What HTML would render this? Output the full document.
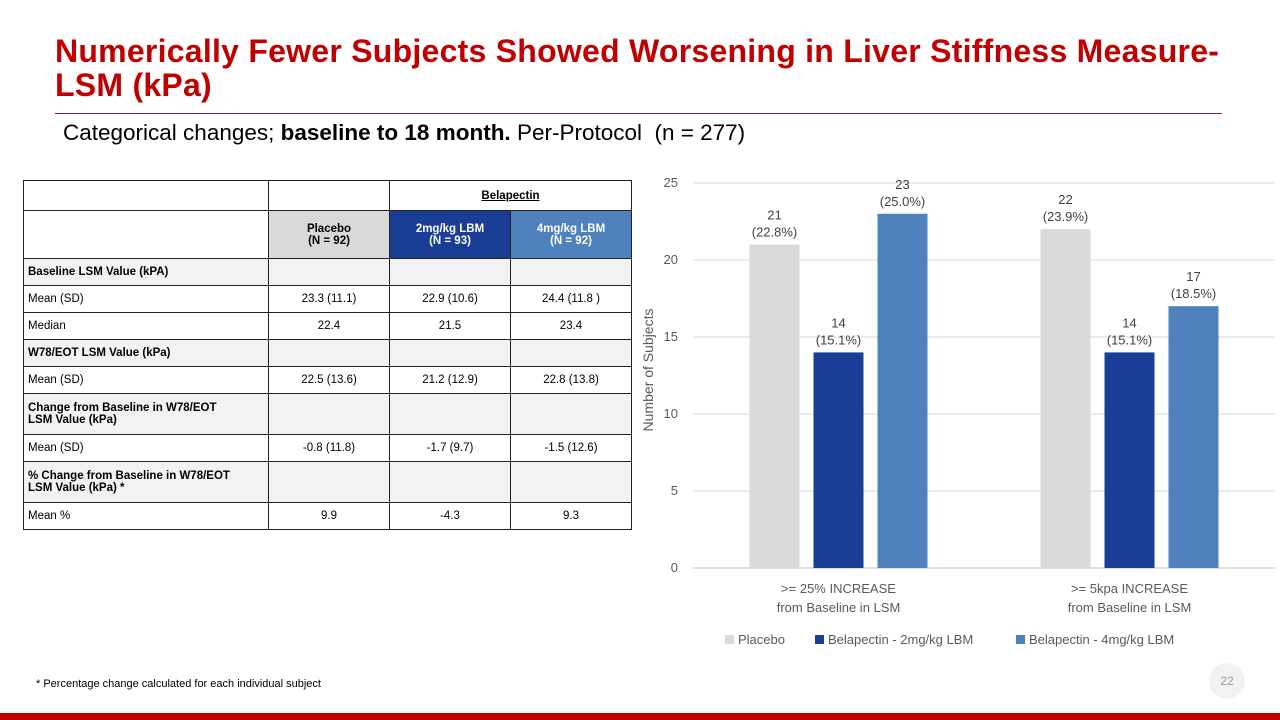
<!DOCTYPE html>
<html><head><meta charset="utf-8"><style>
body{margin:0;width:1280px;height:720px;position:relative;background:#fff;font-family:"Liberation Sans",sans-serif;overflow:hidden}
.abs{position:absolute}
table{border-collapse:collapse;position:absolute;left:23px;top:180px;font-size:11.5px;color:#000}
td{border:1px solid #222;padding:0 4px;height:26px;box-sizing:border-box}
td.c{text-align:center}
.sh td{background:#f2f2f2;font-weight:bold}
</style></head><body>
<div class="abs" style="left:55px;top:34px;width:1220px;color:#c00000;font-weight:bold;font-size:32px;line-height:34px;letter-spacing:0.25px">Numerically Fewer Subjects Showed Worsening in Liver Stiffness Measure-<br>LSM (kPa)</div>
<div class="abs" style="left:55px;top:113px;width:1167px;height:1px;background:#7a1f3d"></div>
<div class="abs" style="left:63px;top:120px;font-size:22.5px">Categorical changes; <b>baseline to 18 month.</b> Per-Protocol&nbsp; (n = 277)</div>
<table>
<colgroup><col style="width:245px"><col style="width:121px"><col style="width:121px"><col style="width:121px"></colgroup>
<tr style="height:30px"><td style="height:30px"></td><td></td><td colspan="2" class="c" style="font-weight:bold"><u>Belapectin</u></td></tr>
<tr style="font-weight:bold"><td style="height:48px"></td><td class="c" style="background:#d9d9d9">Placebo<br>(N = 92)</td><td class="c" style="background:#1a3e96;color:#fff">2mg/kg LBM<br>(N = 93)</td><td class="c" style="background:#4f81bd;color:#fff">4mg/kg LBM<br>(N = 92)</td></tr>
<tr class="sh"><td style="height:27px">Baseline LSM Value (kPA)</td><td></td><td></td><td></td></tr>
<tr><td style="height:27px">Mean (SD)</td><td class="c">23.3 (11.1)</td><td class="c">22.9 (10.6)</td><td class="c">24.4 (11.8 )</td></tr>
<tr><td style="height:27px">Median</td><td class="c">22.4</td><td class="c">21.5</td><td class="c">23.4</td></tr>
<tr class="sh"><td style="height:27px">W78/EOT LSM Value (kPa)</td><td></td><td></td><td></td></tr>
<tr><td style="height:27px">Mean (SD)</td><td class="c">22.5 (13.6)</td><td class="c">21.2 (12.9)</td><td class="c">22.8 (13.8)</td></tr>
<tr class="sh"><td style="height:41px">Change from Baseline in W78/EOT<br>LSM Value (kPa)</td><td></td><td></td><td></td></tr>
<tr><td style="height:27px">Mean (SD)</td><td class="c">-0.8 (11.8)</td><td class="c">-1.7 (9.7)</td><td class="c">-1.5 (12.6)</td></tr>
<tr class="sh"><td style="height:41px">% Change from Baseline in W78/EOT<br>LSM Value (kPa) *</td><td></td><td></td><td></td></tr>
<tr><td style="height:27px">Mean %</td><td class="c">9.9</td><td class="c">-4.3</td><td class="c">9.3</td></tr>
</table>
<div class="abs" style="left:36px;top:678px;font-size:11px">* Percentage change calculated for each individual subject</div>
<div class="abs" style="left:1209px;top:663px;width:36px;height:36px;border-radius:18px;background:#f2f2f2;color:#999;font-size:12px;text-align:center;line-height:36px">22</div>
<div class="abs" style="left:0;top:713px;width:1280px;height:7px;background:#c00000"></div>
<svg id="chart" class="abs" style="left:0;top:0" width="1280" height="720"></svg>
<script>
const categories=[">= 25% INCREASE|from Baseline in LSM",">= 5kpa INCREASE|from Baseline in LSM"];
const seriesNames=["Placebo","Belapectin - 2mg/kg LBM","Belapectin - 4mg/kg LBM"];
const placebo=[21,22];
const bel2=[14,14];
const bel4=[23,17];
const pctPlacebo=["22.8%","23.9%"];
const pct2=["15.1%","15.1%"];
const pct4=["25.0%","18.5%"];
const yTicks=[0,5,10,15,20,25];
const colors=["#d9d9d9","#1a3e96","#4f81bd"];
const svg=document.getElementById('chart');const NS="http://www.w3.org/2000/svg";
const x0=693,x1=1275,yb=568,yt=183,ymax=25;
const y=v=>yb-(v/ymax)*(yb-yt);
const gw=(x1-x0)/categories.length;
function mk(t,a,txt){const e=document.createElementNS(NS,t);for(const k in a)e.setAttribute(k,a[k]);if(txt!=null)e.textContent=txt;svg.appendChild(e);return e;}
yTicks.forEach(t=>{
const g=mk('line',{x1:x0,x2:x1,y1:y(t),y2:y(t),stroke:t===0?'#bfbfbf':'#d9d9d9','stroke-width':1});


const l=mk('text',{x:678,y:y(t)+4,'text-anchor':'end','font-size':13,fill:'#595959'},t);


});
const yt2=mk('text',{x:0,y:0,transform:'translate(653,370) rotate(-90)','text-anchor':'middle','font-size':14,fill:'#595959'},'Number of Subjects');


const series=[placebo,bel2,bel4],pcts=[pctPlacebo,pct2,pct4];
const bw=50,gap=14;
categories.forEach((c,i)=>{
const cx=x0+gw*(i+0.5);
series.forEach((s,j)=>{
const bx=cx+(j-1)*(bw+gap)-bw/2;
const r=mk('rect',{x:bx,y:y(s[i]),width:bw,height:yb-y(s[i]),fill:colors[j]});


const t1=mk('text',{x:bx+bw/2,y:y(s[i])-25,'text-anchor':'middle','font-size':13,fill:'#404040'},s[i]);


const t2=mk('text',{x:bx+bw/2,y:y(s[i])-8,'text-anchor':'middle','font-size':13,fill:'#404040'},'('+pcts[j][i]+')');


});
c.split('|').forEach((ln,k)=>{
const t=mk('text',{x:cx,y:593+k*19,'text-anchor':'middle','font-size':13,fill:'#595959'},ln);


});
});
const lx=[725,815,1016];
seriesNames.forEach((n,j)=>{
const r=mk('rect',{x:lx[j],y:635,width:9,height:9,fill:colors[j]});


const t=mk('text',{x:lx[j]+13,y:644,'font-size':13,fill:'#595959'},n);


});
</script>
</body></html>
